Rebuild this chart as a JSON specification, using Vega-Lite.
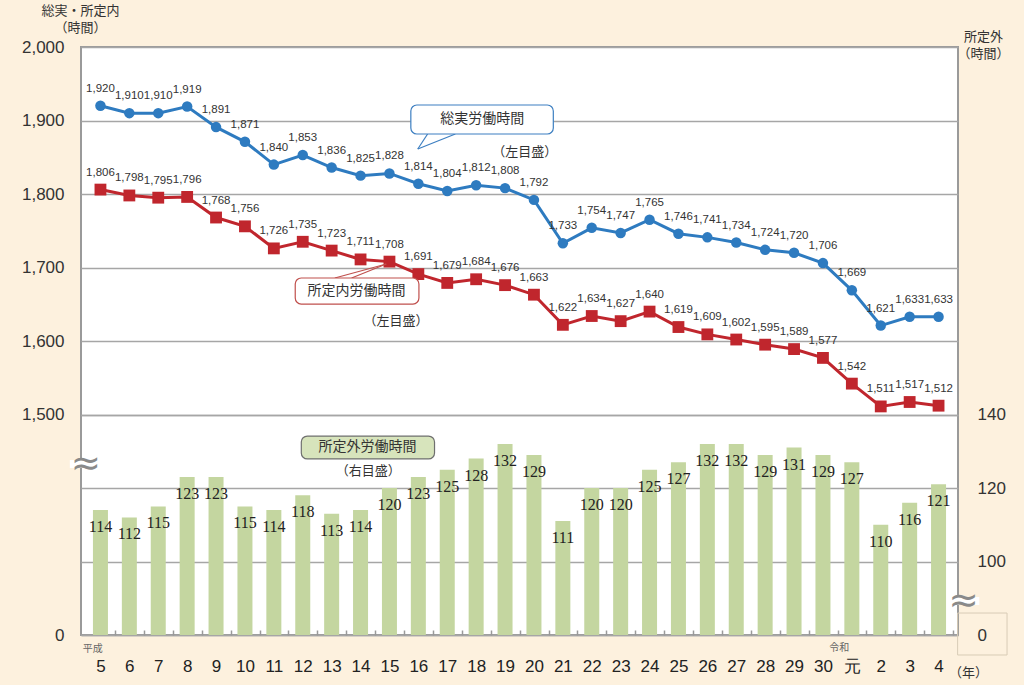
{
  "$schema": "https://vega.github.io/schema/vega-lite/v6.json",
  "width": 877,
  "height": 588,
  "autosize": {"type": "none"},
  "padding": {"left": 81, "top": 47, "right": 66, "bottom": 50},
  "background": "#fdf1de",
  "config": {
    "view": {"fill": "white", "stroke": "#9a9a9a", "strokeWidth": 2},
    "axis": {"labelFont": "Liberation Sans", "titleFont": "Noto Sans CJK JP", "titleFontWeight": "normal", "titleColor": "#333", "labelColor": "#333"},
    "text": {"font": "Noto Sans CJK JP"}
  },
  "datasets": {
    "d": [
      {"i": 0, "yr": "平成5", "total": 1920, "sched": 1806, "over": 114},
      {"i": 1, "yr": "平成6", "total": 1910, "sched": 1798, "over": 112},
      {"i": 2, "yr": "平成7", "total": 1910, "sched": 1795, "over": 115},
      {"i": 3, "yr": "平成8", "total": 1919, "sched": 1796, "over": 123},
      {"i": 4, "yr": "平成9", "total": 1891, "sched": 1768, "over": 123},
      {"i": 5, "yr": "平成10", "total": 1871, "sched": 1756, "over": 115},
      {"i": 6, "yr": "平成11", "total": 1840, "sched": 1726, "over": 114},
      {"i": 7, "yr": "平成12", "total": 1853, "sched": 1735, "over": 118},
      {"i": 8, "yr": "平成13", "total": 1836, "sched": 1723, "over": 113},
      {"i": 9, "yr": "平成14", "total": 1825, "sched": 1711, "over": 114},
      {"i": 10, "yr": "平成15", "total": 1828, "sched": 1708, "over": 120},
      {"i": 11, "yr": "平成16", "total": 1814, "sched": 1691, "over": 123},
      {"i": 12, "yr": "平成17", "total": 1804, "sched": 1679, "over": 125},
      {"i": 13, "yr": "平成18", "total": 1812, "sched": 1684, "over": 128},
      {"i": 14, "yr": "平成19", "total": 1808, "sched": 1676, "over": 132},
      {"i": 15, "yr": "平成20", "total": 1792, "sched": 1663, "over": 129},
      {"i": 16, "yr": "平成21", "total": 1733, "sched": 1622, "over": 111},
      {"i": 17, "yr": "平成22", "total": 1754, "sched": 1634, "over": 120},
      {"i": 18, "yr": "平成23", "total": 1747, "sched": 1627, "over": 120},
      {"i": 19, "yr": "平成24", "total": 1765, "sched": 1640, "over": 125},
      {"i": 20, "yr": "平成25", "total": 1746, "sched": 1619, "over": 127},
      {"i": 21, "yr": "平成26", "total": 1741, "sched": 1609, "over": 132},
      {"i": 22, "yr": "平成27", "total": 1734, "sched": 1602, "over": 132},
      {"i": 23, "yr": "平成28", "total": 1724, "sched": 1595, "over": 129},
      {"i": 24, "yr": "平成29", "total": 1720, "sched": 1589, "over": 131},
      {"i": 25, "yr": "平成30", "total": 1706, "sched": 1577, "over": 129},
      {"i": 26, "yr": "令和元", "total": 1669, "sched": 1542, "over": 127},
      {"i": 27, "yr": "令和2", "total": 1621, "sched": 1511, "over": 110},
      {"i": 28, "yr": "令和3", "total": 1633, "sched": 1517, "over": 116},
      {"i": 29, "yr": "令和4", "total": 1633, "sched": 1512, "over": 121}
    ],
    "one": [{"a": 1}]
  },
  "layer": [
    {
      "data": {"name": "d"},
      "encoding": {
        "x": {"field": "i", "type": "quantitative", "scale": {"domain": [-0.5, 29.5], "nice": false, "zero": false}, "axis": {"values": [0,1,2,3,4,5,6,7,8,9,10,11,12,13,14,15,16,17,18,19,20,21,22,23,24,25,26,27,28,29], "labelExpr": "datum.value < 26 ? '' + (datum.value + 5) : ['元','2','3','4'][datum.value - 26]", "labelFlush": false, "labelOverlap": false, "labelBound": false, "labelFontSize": 17, "labelColor": "#222", "tickOffset": 14.6, "labelOffset": -14.6, "tickSize": -5, "tickColor": "#999", "tickWidth": 1.5, "labelPadding": 28, "domain": false, "grid": false, "title": "（年）", "titleFontSize": 13, "titleX": 887, "titleY": 37, "titleAlign": "center", "titleBaseline": "middle", "titleAngle": 0}},
        "y": {
          "field": "over", "type": "quantitative",
          "scale": {"domain": [80, 240], "nice": false, "zero": false},
          "axis": {
            "orient": "right",
            "values": [80, 100, 120, 140],
            "labelExpr": "datum.value == 80 ? '0' : '' + datum.value",
            "labelFontSize": 17, "labelPadding": 19, "labelBaseline": "middle",
            "grid": true, "gridColor": "#a6a6a6", "gridWidth": 1.5,
            "ticks": false, "domain": false,
            "title": ["所定外", "（時間）"], "titleFontSize": 13, "titleAngle": 0,
            "titleX": 25, "titleY": -17, "titleAlign": "center", "titleBaseline": "top", "titleLineHeight": 17
          }
        }
      },
      "layer": [
        {"mark": {"type": "bar", "size": 15, "color": "#c4d6a0"}, "encoding": {"y2": {"datum": 80}}},
        {"mark": {"type": "text", "dy": 17, "fontSize": 16, "font": "Liberation Sans Narrow", "color": "#222", "baseline": "middle"}, "encoding": {"text": {"field": "over"}}}
      ]
    },
    {
      "layer": [
        {
          "data": {"name": "d"},
          "mark": {"type": "line", "color": "#2e7bc0", "strokeWidth": 3},
          "encoding": {
            "x": {"field": "i", "type": "quantitative", "scale": {"domain": [-0.5, 29.5], "nice": false, "zero": false}, "axis": {"values": [0,1,2,3,4,5,6,7,8,9,10,11,12,13,14,15,16,17,18,19,20,21,22,23,24,25,26,27,28,29], "labelExpr": "datum.value < 26 ? '' + (datum.value + 5) : ['元','2','3','4'][datum.value - 26]", "labelFlush": false, "labelOverlap": false, "labelBound": false, "labelFontSize": 17, "labelColor": "#222", "tickOffset": 14.6, "labelOffset": -14.6, "tickSize": -5, "tickColor": "#999", "tickWidth": 1.5, "labelPadding": 28, "domain": false, "grid": false, "title": "（年）", "titleFontSize": 13, "titleX": 887, "titleY": 37, "titleAlign": "center", "titleBaseline": "middle", "titleAngle": 0}},
            "y": {
              "field": "total", "type": "quantitative",
              "scale": {"domain": [1200, 2000], "nice": false, "zero": false},
              "axis": {
                "orient": "left",
                "values": [1200, 1500, 1600, 1700, 1800, 1900, 2000],
                "labelExpr": "datum.value == 1200 ? '0' : format(datum.value, ',')",
                "labelFontSize": 17, "labelPadding": 17, "labelBaseline": "middle",
                "grid": true, "gridColor": "#a6a6a6", "gridWidth": 1.5,
                "ticks": false, "domain": false,
                "title": ["総実・所定内", "（時間）"], "titleFontSize": 13, "titleAngle": 0,
                "titleX": -1, "titleY": -43, "titleAlign": "center", "titleBaseline": "top", "titleLineHeight": 17
              }
            }
          }
        },
        {
          "data": {"name": "d"},
          "mark": {"type": "point", "shape": "circle", "filled": true, "opacity": 1, "size": 110, "color": "#2e7bc0"},
          "encoding": {"x": {"field": "i", "type": "quantitative", "scale": {"domain": [-0.5, 29.5], "nice": false, "zero": false}, "axis": {"values": [0,1,2,3,4,5,6,7,8,9,10,11,12,13,14,15,16,17,18,19,20,21,22,23,24,25,26,27,28,29], "labelExpr": "datum.value < 26 ? '' + (datum.value + 5) : ['元','2','3','4'][datum.value - 26]", "labelFlush": false, "labelOverlap": false, "labelBound": false, "labelFontSize": 17, "labelColor": "#222", "tickOffset": 14.6, "labelOffset": -14.6, "tickSize": -5, "tickColor": "#999", "tickWidth": 1.5, "labelPadding": 28, "domain": false, "grid": false, "title": "（年）", "titleFontSize": 13, "titleX": 887, "titleY": 37, "titleAlign": "center", "titleBaseline": "middle", "titleAngle": 0}}, "y": {"field": "total", "type": "quantitative"}}
        },
        {
          "data": {"name": "d"},
          "mark": {"type": "text", "dy": -17, "fontSize": 11.5, "font": "Liberation Sans", "color": "#333", "baseline": "middle"},
          "encoding": {
            "x": {"field": "i", "type": "quantitative", "scale": {"domain": [-0.5, 29.5], "nice": false, "zero": false}, "axis": {"values": [0,1,2,3,4,5,6,7,8,9,10,11,12,13,14,15,16,17,18,19,20,21,22,23,24,25,26,27,28,29], "labelExpr": "datum.value < 26 ? '' + (datum.value + 5) : ['元','2','3','4'][datum.value - 26]", "labelFlush": false, "labelOverlap": false, "labelBound": false, "labelFontSize": 17, "labelColor": "#222", "tickOffset": 14.6, "labelOffset": -14.6, "tickSize": -5, "tickColor": "#999", "tickWidth": 1.5, "labelPadding": 28, "domain": false, "grid": false, "title": "（年）", "titleFontSize": 13, "titleX": 887, "titleY": 37, "titleAlign": "center", "titleBaseline": "middle", "titleAngle": 0}},
            "y": {"field": "total", "type": "quantitative"},
            "text": {"field": "total", "format": ","}
          }
        },
        {
          "data": {"name": "d"},
          "mark": {"type": "line", "color": "#c0262d", "strokeWidth": 3},
          "encoding": {"x": {"field": "i", "type": "quantitative", "scale": {"domain": [-0.5, 29.5], "nice": false, "zero": false}, "axis": {"values": [0,1,2,3,4,5,6,7,8,9,10,11,12,13,14,15,16,17,18,19,20,21,22,23,24,25,26,27,28,29], "labelExpr": "datum.value < 26 ? '' + (datum.value + 5) : ['元','2','3','4'][datum.value - 26]", "labelFlush": false, "labelOverlap": false, "labelBound": false, "labelFontSize": 17, "labelColor": "#222", "tickOffset": 14.6, "labelOffset": -14.6, "tickSize": -5, "tickColor": "#999", "tickWidth": 1.5, "labelPadding": 28, "domain": false, "grid": false, "title": "（年）", "titleFontSize": 13, "titleX": 887, "titleY": 37, "titleAlign": "center", "titleBaseline": "middle", "titleAngle": 0}}, "y": {"field": "sched", "type": "quantitative"}}
        },
        {
          "data": {"name": "d"},
          "mark": {"type": "point", "shape": "square", "filled": true, "opacity": 1, "size": 140, "color": "#c0262d"},
          "encoding": {"x": {"field": "i", "type": "quantitative", "scale": {"domain": [-0.5, 29.5], "nice": false, "zero": false}, "axis": {"values": [0,1,2,3,4,5,6,7,8,9,10,11,12,13,14,15,16,17,18,19,20,21,22,23,24,25,26,27,28,29], "labelExpr": "datum.value < 26 ? '' + (datum.value + 5) : ['元','2','3','4'][datum.value - 26]", "labelFlush": false, "labelOverlap": false, "labelBound": false, "labelFontSize": 17, "labelColor": "#222", "tickOffset": 14.6, "labelOffset": -14.6, "tickSize": -5, "tickColor": "#999", "tickWidth": 1.5, "labelPadding": 28, "domain": false, "grid": false, "title": "（年）", "titleFontSize": 13, "titleX": 887, "titleY": 37, "titleAlign": "center", "titleBaseline": "middle", "titleAngle": 0}}, "y": {"field": "sched", "type": "quantitative"}}
        },
        {
          "data": {"name": "d"},
          "mark": {"type": "text", "dy": -17, "fontSize": 11.5, "font": "Liberation Sans", "color": "#333", "baseline": "middle"},
          "encoding": {
            "x": {"field": "i", "type": "quantitative", "scale": {"domain": [-0.5, 29.5], "nice": false, "zero": false}, "axis": {"values": [0,1,2,3,4,5,6,7,8,9,10,11,12,13,14,15,16,17,18,19,20,21,22,23,24,25,26,27,28,29], "labelExpr": "datum.value < 26 ? '' + (datum.value + 5) : ['元','2','3','4'][datum.value - 26]", "labelFlush": false, "labelOverlap": false, "labelBound": false, "labelFontSize": 17, "labelColor": "#222", "tickOffset": 14.6, "labelOffset": -14.6, "tickSize": -5, "tickColor": "#999", "tickWidth": 1.5, "labelPadding": 28, "domain": false, "grid": false, "title": "（年）", "titleFontSize": 13, "titleX": 887, "titleY": 37, "titleAlign": "center", "titleBaseline": "middle", "titleAngle": 0}},
            "y": {"field": "sched", "type": "quantitative"},
            "text": {"field": "sched", "format": ","}
          }
        },
        {
          "data": {"name": "one"},
          "encoding": {"x": {"type": "quantitative", "scale": {"domain": [-0.5, 29.5], "nice": false, "zero": false}, "axis": {"values": [0,1,2,3,4,5,6,7,8,9,10,11,12,13,14,15,16,17,18,19,20,21,22,23,24,25,26,27,28,29], "labelExpr": "datum.value < 26 ? '' + (datum.value + 5) : ['元','2','3','4'][datum.value - 26]", "labelFlush": false, "labelOverlap": false, "labelBound": false, "labelFontSize": 17, "labelColor": "#222", "tickOffset": 14.6, "labelOffset": -14.6, "tickSize": -5, "tickColor": "#999", "tickWidth": 1.5, "labelPadding": 28, "domain": false, "grid": false, "title": "（年）", "titleFontSize": 13, "titleX": 887, "titleY": 37, "titleAlign": "center", "titleBaseline": "middle", "titleAngle": 0}}, "y": {"type": "quantitative", "scale": {"domain": [1200, 2000], "nice": false, "zero": false}}},
          "layer": [
            {"mark": {"type": "rule", "color": "#3d7fc1", "strokeWidth": 1.2}, "encoding": {"x": {"datum": 11.32}, "x2": {"datum": 10.98}, "y": {"datum": 1881.6}, "y2": {"datum": 1861.2}}},
            {"mark": {"type": "rule", "color": "#3d7fc1", "strokeWidth": 1.2}, "encoding": {"x": {"datum": 12.28}, "x2": {"datum": 10.98}, "y": {"datum": 1881.6}, "y2": {"datum": 1861.2}}},
            {"mark": {"type": "rect", "fill": "white", "stroke": "#3d7fc1", "strokeWidth": 1.2, "cornerRadius": 6}, "encoding": {"x": {"datum": 10.74}, "x2": {"datum": 15.67}, "y": {"datum": 1921.1}, "y2": {"datum": 1881.6}}},
            {"mark": {"type": "text", "text": "総実労働時間", "fontSize": 14, "color": "#333", "baseline": "middle"}, "encoding": {"x": {"datum": 13.21}, "y": {"datum": 1902}}},
            {"mark": {"type": "text", "text": "（左目盛）", "fontSize": 13, "color": "#333", "baseline": "middle"}, "encoding": {"x": {"datum": 14.68}, "y": {"datum": 1857}}},
            {"mark": {"type": "rule", "color": "#c0504d", "strokeWidth": 1.2}, "encoding": {"x": {"datum": 8.11}, "x2": {"datum": 9.89}, "y": {"datum": 1685.7}, "y2": {"datum": 1704.8}}},
            {"mark": {"type": "rule", "color": "#c0504d", "strokeWidth": 1.2}, "encoding": {"x": {"datum": 8.69}, "x2": {"datum": 9.89}, "y": {"datum": 1685.7}, "y2": {"datum": 1704.8}}},
            {"mark": {"type": "rect", "fill": "white", "stroke": "#c0504d", "strokeWidth": 1.2, "cornerRadius": 6}, "encoding": {"x": {"datum": 6.74}, "x2": {"datum": 11.02}, "y": {"datum": 1685.7}, "y2": {"datum": 1650.3}}},
            {"mark": {"type": "text", "text": "所定内労働時間", "fontSize": 14, "color": "#333", "baseline": "middle"}, "encoding": {"x": {"datum": 8.86}, "y": {"datum": 1668}}},
            {"mark": {"type": "text", "text": "（左目盛）", "fontSize": 13, "color": "#333", "baseline": "middle"}, "encoding": {"x": {"datum": 10.23}, "y": {"datum": 1627.2}}},
            {"mark": {"type": "rect", "fill": "#d7e4bc", "stroke": "#6f6f6f", "strokeWidth": 1.2, "cornerRadius": 6}, "encoding": {"x": {"datum": 6.95}, "x2": {"datum": 11.56}, "y": {"datum": 1470.7}, "y2": {"datum": 1439.5}}},
            {"mark": {"type": "text", "text": "所定外労働時間", "fontSize": 14, "color": "#333", "baseline": "middle"}, "encoding": {"x": {"datum": 9.24}, "y": {"datum": 1455.8}}},
            {"mark": {"type": "text", "text": "（右目盛）", "fontSize": 13, "color": "#333", "baseline": "middle"}, "encoding": {"x": {"datum": 9.27}, "y": {"datum": 1423.1}}},
            {"mark": {"type": "text", "text": "平成", "fontSize": 10, "color": "#666", "baseline": "middle"}, "encoding": {"x": {"datum": -0.27}, "y": {"datum": 1181}}},
            {"mark": {"type": "text", "text": "令和", "fontSize": 10, "color": "#666", "baseline": "middle"}, "encoding": {"x": {"datum": 25.56}, "y": {"datum": 1182}}},
            {"mark": {"type": "rect", "fill": "white"}, "encoding": {"x": {"datum": -1.06}, "x2": {"datum": 0.03}, "y": {"datum": 1438.1}, "y2": {"datum": 1427.2}}},
            {"mark": {"type": "text", "text": "≈", "font": "DejaVu Sans", "fontSize": 36, "color": "#8a8a8a", "baseline": "middle"}, "encoding": {"x": {"datum": -0.51}, "y": {"datum": 1432.7}}},
            {"mark": {"type": "rect", "fill": "white"}, "encoding": {"x": {"datum": 29.32}, "x2": {"datum": 30.41}, "y": {"datum": 1251.7}, "y2": {"datum": 1240.8}}},
            {"mark": {"type": "text", "text": "≈", "font": "DejaVu Sans", "fontSize": 36, "color": "#8a8a8a", "baseline": "middle"}, "encoding": {"x": {"datum": 29.87}, "y": {"datum": 1246.3}}},
            {"mark": {"type": "rect", "fillOpacity": 0, "stroke": "#d8ccb6", "strokeWidth": 1}, "encoding": {"x": {"datum": 29.66}, "x2": {"datum": 31.37}, "y": {"datum": 1229.9}, "y2": {"datum": 1172.8}}}
          ]
        }
      ]
    }
  ],
  "resolve": {"scale": {"y": "independent"}}
}
